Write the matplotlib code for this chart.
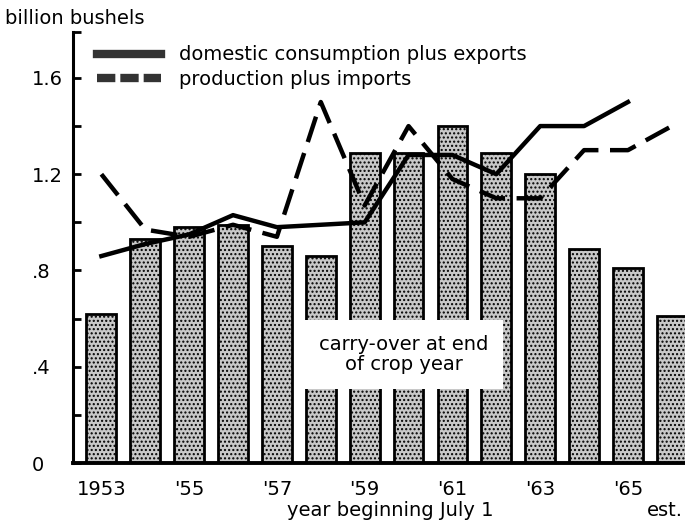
import matplotlib.pyplot as plt
from matplotlib.lines import Line2D

years = [1953, 1954, 1955, 1956, 1957, 1958, 1959, 1960, 1961, 1962, 1963, 1964, 1965, 1966]
carryover = [0.62, 0.93, 0.98, 0.99, 0.90, 0.86, 1.29, 1.29, 1.40, 1.29, 1.20, 0.89, 0.81, 0.61]

use_years = [1953, 1954, 1955, 1956, 1957, 1958, 1959, 1960, 1961, 1962, 1963, 1964, 1965]
domestic_exports = [0.86, 0.91, 0.95, 1.03, 0.98, 0.99, 1.00, 1.28, 1.28, 1.20, 1.40, 1.40, 1.50]

supply_years = [1953, 1954, 1955, 1956, 1957, 1958, 1959, 1960, 1961, 1962, 1963, 1964, 1965, 1966]
production_imports = [1.20, 0.97, 0.94, 0.99, 0.94, 1.50, 1.07, 1.40, 1.18, 1.10, 1.10, 1.30, 1.30, 1.40]

tick_years = [1953, 1955, 1957, 1959, 1961, 1963, 1965]
tick_labels = ["1953", "'55", "'57", "'59", "'61", "'63", "'65"]

plt.rcParams['font.family'] = 'DejaVu Sans'

fig = plt.figure(figsize=(6.85, 5.28), dpi=100)
ax = fig.add_axes([0.107, 0.123, 0.893, 0.816])

ax.bar(years, carryover, width=0.68, color="#c8c8c8", edgecolor="black",
       linewidth=2.0, hatch="....", zorder=2)

ax.plot(use_years, domestic_exports, color="black", linewidth=3.2,
        solid_joinstyle="round", zorder=4)
ax.plot(supply_years, production_imports, color="black", linewidth=3.2,
        dashes=(6, 2.6), zorder=4)

ax.text(1959.9, 0.45, "carry-over at end\nof crop year", ha="center", va="center",
        fontsize=14, linespacing=1.1, zorder=5,
        bbox=dict(boxstyle="square,pad=0.75", fc="white", ec="none"))

ax.set_xlim(1952.36, 1966.3)
ax.set_ylim(0, 1.79)

ax.spines["top"].set_visible(False)
ax.spines["right"].set_visible(False)
ax.spines["left"].set_linewidth(2.2)
ax.spines["bottom"].set_linewidth(2.8)

ax.set_yticks([0, 0.4, 0.8, 1.2, 1.6])
ax.set_yticklabels(["0", ".4", ".8", "1.2", "1.6"])
ax.set_yticks([0.2, 0.6, 1.0, 1.4, 1.79], minor=True)
ax.tick_params(axis="y", which="both", direction="in", length=6, width=2,
               labelsize=14, pad=30)
for lab in ax.get_yticklabels():
    lab.set_horizontalalignment("left")
ax.set_xticks(tick_years)
ax.set_xticklabels(tick_labels)
ax.tick_params(axis="x", length=0, labelsize=14, pad=12)

fig.text(0.57, 0.022, "year beginning July 1", fontsize=14, ha="center")
fig.text(0.008, 0.955, "billion bushels", fontsize=14)
fig.text(0.945, 0.022, "est.", fontsize=14)

handles = [Line2D([], [], color="#333333", linewidth=6),
           Line2D([], [], color="#333333", linewidth=6, dashes=(2.2, 0.6))]
ax.legend(handles, ["domestic consumption plus exports", "production plus imports"],
          loc="upper left", bbox_to_anchor=(0.01, 1.01), frameon=False,
          fontsize=14, handlelength=3.3, handletextpad=0.9, labelspacing=0.3)

fig.savefig("out.png", dpi=100)
